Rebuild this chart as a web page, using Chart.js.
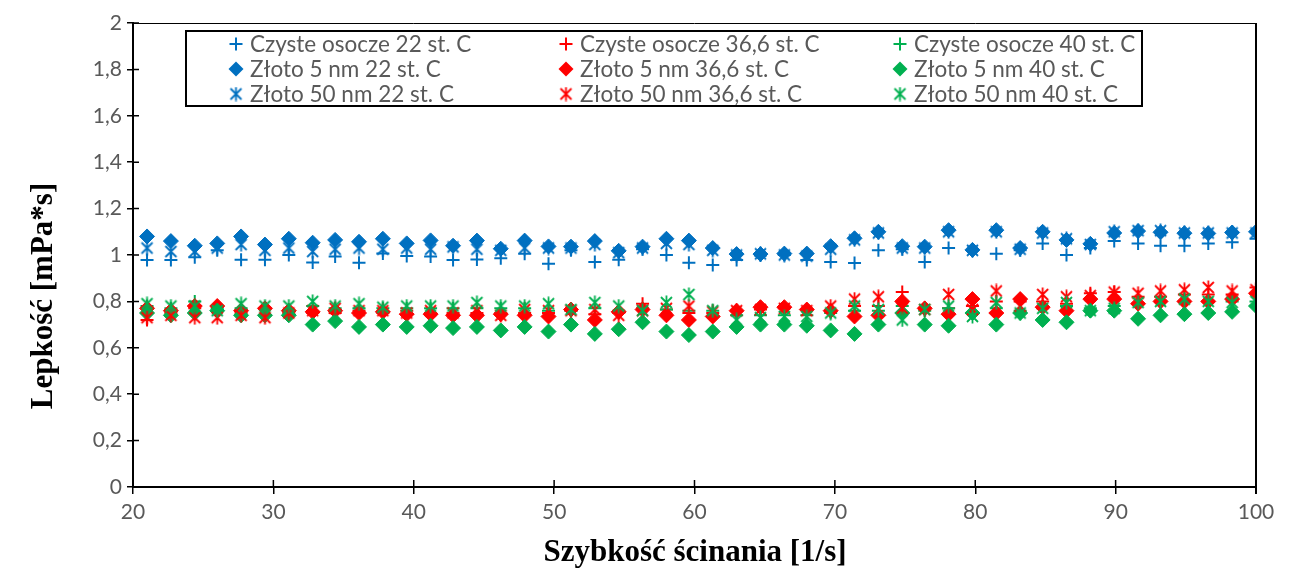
<!DOCTYPE html>
<html>
<head>
<meta charset="utf-8">
<script src="https://cdn.jsdelivr.net/npm/chart.js@4"></script>
<style>
  body { margin: 0; background: #fff; }
  #wrap { width: 1291px; height: 574px; }
</style>
</head>
<body>
<div id="wrap"><canvas id="lepkoscChart" width="1291" height="574"></canvas></div>
<script>
// shear rate [1/s]
var shearRate = [21.0, 22.7, 24.4, 26.0, 27.7, 29.4, 31.1, 32.8, 34.4, 36.1, 37.8, 39.5,
  41.2, 42.8, 44.5, 46.2, 47.9, 49.6, 51.2, 52.9, 54.6, 56.3, 58.0, 59.6,
  61.3, 63.0, 64.7, 66.4, 68.0, 69.7, 71.4, 73.1, 74.8, 76.4, 78.1, 79.8,
  81.5, 83.2, 84.8, 86.5, 88.2, 89.9, 91.6, 93.2, 94.9, 96.6, 98.3, 100.0];

var czyste22 = [0.978, 0.978, 0.99, 1.02, 0.98, 0.98, 1.0, 0.968, 0.993, 0.967, 1.007, 0.996,
  0.993, 0.978, 0.981, 0.986, 1.005, 0.962, 1.02, 0.97, 0.98, 1.025, 1.0, 0.967,
  0.957, 0.978, 0.998, 1.0, 0.978, 0.97, 0.965, 1.02, 1.025, 0.97, 1.03, 1.02,
  1.005, 1.02, 1.05, 1.0, 1.03, 1.06, 1.05, 1.04, 1.04, 1.05, 1.055, 1.07];
var czyste366 = [0.72, 0.75, 0.77, 0.76, 0.75, 0.74, 0.75, 0.75, 0.75, 0.76, 0.75, 0.76,
  0.75, 0.75, 0.75, 0.75, 0.75, 0.75, 0.76, 0.745, 0.75, 0.79, 0.765, 0.75,
  0.75, 0.76, 0.765, 0.77, 0.765, 0.76, 0.78, 0.78, 0.84, 0.77, 0.77, 0.78,
  0.8, 0.8, 0.8, 0.79, 0.835, 0.84, 0.82, 0.82, 0.83, 0.83, 0.83, 0.86];
var czyste40 = [0.78, 0.77, 0.80, 0.77, 0.77, 0.77, 0.76, 0.78, 0.77, 0.77, 0.77, 0.77,
  0.77, 0.77, 0.77, 0.77, 0.77, 0.76, 0.76, 0.77, 0.76, 0.77, 0.765, 0.76,
  0.76, 0.74, 0.74, 0.74, 0.74, 0.75, 0.76, 0.76, 0.78, 0.76, 0.77, 0.75,
  0.77, 0.76, 0.77, 0.78, 0.77, 0.78, 0.79, 0.80, 0.80, 0.80, 0.80, 0.80];
var zloto5_22 = [1.08, 1.06, 1.04, 1.05, 1.08, 1.045, 1.07, 1.053, 1.065, 1.057, 1.07, 1.05,
  1.063, 1.04, 1.062, 1.027, 1.062, 1.037, 1.036, 1.06, 1.018, 1.036, 1.07, 1.062,
  1.03, 1.004, 1.004, 1.006, 1.006, 1.038, 1.072, 1.1, 1.038, 1.036, 1.107, 1.022,
  1.107, 1.03, 1.1, 1.065, 1.048, 1.095, 1.103, 1.098, 1.094, 1.093, 1.097, 1.1];
var zloto5_366 = [0.77, 0.76, 0.78, 0.78, 0.76, 0.77, 0.76, 0.755, 0.76, 0.75, 0.755, 0.745,
  0.745, 0.74, 0.74, 0.745, 0.74, 0.735, 0.765, 0.72, 0.755, 0.765, 0.74, 0.72,
  0.735, 0.76, 0.775, 0.775, 0.765, 0.76, 0.735, 0.74, 0.80, 0.77, 0.745, 0.81,
  0.75, 0.81, 0.775, 0.76, 0.81, 0.81, 0.79, 0.80, 0.80, 0.80, 0.81, 0.835];
var zloto5_40 = [0.75, 0.74, 0.75, 0.76, 0.74, 0.74, 0.74, 0.70, 0.715, 0.69, 0.70, 0.69,
  0.695, 0.685, 0.69, 0.675, 0.69, 0.67, 0.70, 0.66, 0.68, 0.71, 0.67, 0.655,
  0.67, 0.69, 0.70, 0.70, 0.695, 0.675, 0.66, 0.70, 0.75, 0.70, 0.695, 0.75,
  0.70, 0.75, 0.72, 0.71, 0.76, 0.76, 0.725, 0.74, 0.745, 0.75, 0.755, 0.78];
var zloto50_22 = [1.03, 1.015, 1.015, 1.03, 1.045, 1.02, 1.03, 1.015, 1.025, 1.03, 1.025, 1.03,
  1.025, 1.035, 1.025, 1.02, 1.03, 1.03, 1.03, 1.045, 1.01, 1.03, 1.05, 1.045,
  1.02, 1.0, 1.005, 1.0, 0.995, 1.025, 1.065, 1.095, 1.03, 1.03, 1.1, 1.02,
  1.1, 1.025, 1.095, 1.07, 1.045, 1.1, 1.105, 1.105, 1.095, 1.095, 1.095, 1.095];
var zloto50_366 = [0.73, 0.74, 0.73, 0.73, 0.74, 0.73, 0.75, 0.76, 0.77, 0.76, 0.76, 0.75,
  0.76, 0.75, 0.76, 0.74, 0.765, 0.76, 0.76, 0.765, 0.74, 0.76, 0.77, 0.78,
  0.755, 0.76, 0.765, 0.77, 0.76, 0.78, 0.81, 0.82, 0.77, 0.765, 0.83, 0.765,
  0.845, 0.78, 0.83, 0.82, 0.825, 0.84, 0.835, 0.845, 0.85, 0.86, 0.845, 0.85];
var zloto50_40 = [0.79, 0.78, 0.78, 0.76, 0.79, 0.78, 0.78, 0.80, 0.78, 0.79, 0.775, 0.78,
  0.78, 0.78, 0.795, 0.78, 0.78, 0.79, 0.765, 0.795, 0.78, 0.76, 0.795, 0.83,
  0.76, 0.72, 0.73, 0.735, 0.735, 0.75, 0.78, 0.765, 0.72, 0.765, 0.78, 0.735,
  0.795, 0.75, 0.77, 0.795, 0.76, 0.77, 0.795, 0.80, 0.81, 0.80, 0.795, 0.80];

var yTicks = ["0", "0,2", "0,4", "0,6", "0,8", "1", "1,2", "1,4", "1,6", "1,8", "2"];
var xTicks = [20, 30, 40, 50, 60, 70, 80, 90, 100];

var BLUE = "#0070C0", RED = "#FF0000", GREEN = "#00B050";

// excel style "star" marker: X with a vertical bar
function starMarker(color) {
  var c = document.createElement("canvas");
  c.width = 15; c.height = 15;
  var g = c.getContext("2d");
  g.strokeStyle = color;
  g.lineWidth = 1.8;
  g.beginPath();
  g.moveTo(2, 2); g.lineTo(13, 13);
  g.moveTo(13, 2); g.lineTo(2, 13);
  g.moveTo(7.5, 0.5); g.lineTo(7.5, 14.5);
  g.stroke();
  return c;
}

function pts(values) {
  return values.map(function (v, i) { return { x: shearRate[i], y: v }; });
}

var series = [
  { label: "Czyste osocze 22 st. C", data: czyste22, color: BLUE, kind: "plus" },
  { label: "Czyste osocze 36,6 st. C", data: czyste366, color: RED, kind: "plus" },
  { label: "Czyste osocze 40 st. C", data: czyste40, color: GREEN, kind: "plus" },
  { label: "Złoto 5 nm 22 st. C", data: zloto5_22, color: BLUE, kind: "diamond" },
  { label: "Złoto 5 nm 36,6 st. C", data: zloto5_366, color: RED, kind: "diamond" },
  { label: "Złoto 5 nm 40 st. C", data: zloto5_40, color: GREEN, kind: "diamond" },
  { label: "Złoto 50 nm 22 st. C", data: zloto50_22, color: BLUE, kind: "star" },
  { label: "Złoto 50 nm 36,6 st. C", data: zloto50_366, color: RED, kind: "star" },
  { label: "Złoto 50 nm 40 st. C", data: zloto50_40, color: GREEN, kind: "star" }
];

var datasets = series.map(function (s, i) {
  var ds = {
    label: s.label,
    data: pts(s.data),
    order: series.length - i,
    borderColor: s.color,
    backgroundColor: s.color
  };
  if (s.kind === "plus") {
    ds.pointStyle = "cross"; ds.pointRadius = 6.5; ds.pointBorderWidth = 2;
  } else if (s.kind === "diamond") {
    ds.pointStyle = "rectRot"; ds.pointRadius = 7.5; ds.pointBorderWidth = 1;
  } else {
    ds.pointStyle = starMarker(s.color);
  }
  return ds;
});

// cross ticks, plot frame, axis titles and the boxed legend
var excelLook = {
  id: "excelLook",
  afterDraw: function (chart) {
    var ctx = chart.ctx, a = chart.chartArea;
    var xs = chart.scales.x, ys = chart.scales.y;
    ctx.save();
    ctx.strokeStyle = "#000";
    ctx.lineWidth = 1;
    ctx.beginPath();
    ctx.moveTo(a.left, a.top + 0.5); ctx.lineTo(a.right, a.top + 0.5);
    ctx.stroke();
    ctx.lineWidth = 2;
    ctx.beginPath();
    ctx.moveTo(a.right, a.top); ctx.lineTo(a.right, a.bottom + 7);
    ctx.stroke();
    ctx.lineWidth = 1.5;
    ctx.beginPath();
    ys.ticks.forEach(function (t, i) {
      var y = ys.getPixelForTick(i);
      ctx.moveTo(a.left, y); ctx.lineTo(a.left + 6, y);
    });
    xs.ticks.forEach(function (t, i) {
      var x = xs.getPixelForTick(i);
      ctx.moveTo(x, a.bottom); ctx.lineTo(x, a.bottom - 7);
    });
    ctx.stroke();

    // axis titles
    ctx.fillStyle = "#000";
    ctx.font = "bold 31px 'Liberation Serif'";
    ctx.textAlign = "center";
    ctx.textBaseline = "middle";
    ctx.fillText("Szybkość ścinania [1/s]", 695, 553);
    ctx.save();
    ctx.translate(44, 296);
    ctx.rotate(-Math.PI / 2);
    ctx.fillText("Lepkość [mPa*s]", 0, 0);
    ctx.restore();

    // legend
    ctx.textAlign = "left";
    ctx.strokeStyle = "#000";
    ctx.lineWidth = 2;
    ctx.strokeRect(186, 31, 956, 75);
    var colX = [236, 566, 900], rowY = [44, 69, 94];
    ctx.font = "22.5px Lato";
    series.forEach(function (s, i) {
      var cx = colX[i % 3], cy = rowY[Math.floor(i / 3)];
      ctx.strokeStyle = s.color;
      ctx.fillStyle = s.color;
      ctx.lineWidth = 2;
      ctx.beginPath();
      if (s.kind === "plus") {
        ctx.moveTo(cx - 6.5, cy); ctx.lineTo(cx + 6.5, cy);
        ctx.moveTo(cx, cy - 6.5); ctx.lineTo(cx, cy + 6.5);
        ctx.stroke();
      } else if (s.kind === "diamond") {
        ctx.moveTo(cx, cy - 7.5); ctx.lineTo(cx + 7.5, cy);
        ctx.lineTo(cx, cy + 7.5); ctx.lineTo(cx - 7.5, cy);
        ctx.closePath(); ctx.fill();
      } else {
        ctx.drawImage(datasets[i].pointStyle, cx - 7.5, cy - 7.5);
      }
      ctx.fillStyle = "#595959";
      ctx.fillText(s.label, cx + 14, cy + 1);
    });
    ctx.restore();
  }
};

new Chart(document.getElementById("lepkoscChart"), {
  type: "scatter",
  data: { datasets: datasets },
  options: {
    responsive: false,
    animation: false,
    layout: { padding: { top: 23, right: 35, left: 0, bottom: 0 } },
    plugins: {
      legend: { display: false },
      tooltip: { enabled: false }
    },
    scales: {
      x: {
        type: "linear",
        min: 20,
        max: 100,
        afterBuildTicks: function (scale) {
          scale.ticks = xTicks.map(function (v) { return { value: v }; });
        },
        afterFit: function (scale) { scale.height = 87; },
        ticks: {
          color: "#595959",
          font: { family: "Lato", size: 21 },
          padding: 6
        },
        grid: { drawOnChartArea: false, color: "#000", lineWidth: 1.5, tickLength: 7 },
        border: { color: "#000", width: 2 }
      },
      y: {
        min: 0,
        max: 2,
        afterBuildTicks: function (scale) {
          scale.ticks = yTicks.map(function (t, i) { return { value: i * 0.2 }; });
        },
        afterFit: function (scale) { scale.width = 133; },
        ticks: {
          color: "#595959",
          font: { family: "Lato", size: 21 },
          padding: 5,
          callback: function (v, i) { return yTicks[i]; }
        },
        grid: { drawOnChartArea: false, color: "#000", lineWidth: 1.5, tickLength: 6 },
        border: { color: "#000", width: 2 }
      }
    }
  },
  plugins: [excelLook]
});
</script>
</body>
</html>
